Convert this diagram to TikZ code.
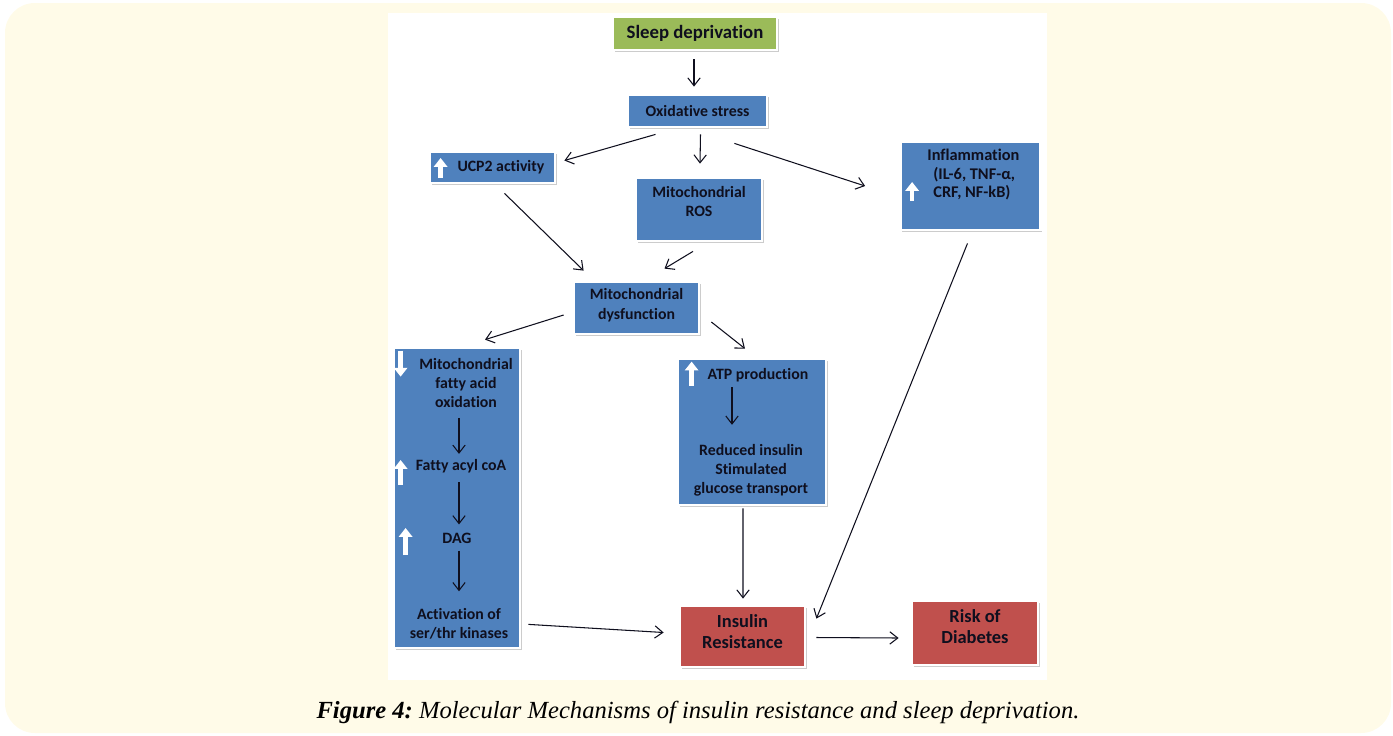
\documentclass[tikz,border=0pt]{standalone}
\usepackage{fontspec}
\setmainfont[Ligatures=NoCommon]{Carlito}
\newfontfamily\capfont{Liberation Serif}
\usetikzlibrary{arrows.meta,calc,shadows}

\definecolor{boxblue}{RGB}{79,129,189}
\definecolor{boxgreen}{RGB}{155,187,89}
\definecolor{boxred}{RGB}{192,80,77}
\definecolor{cream}{RGB}{255,251,232}
\definecolor{ink}{RGB}{15,15,30}

\begin{document}
\begin{tikzpicture}[x=0.02cm,y=-0.02cm,
    box/.style={draw=white, line width=1.6pt, fill=boxblue, text=ink, align=center, inner sep=0pt,
      font=\bfseries\fontsize{9}{11.2}\selectfont,
      drop shadow={shadow xshift=1pt, shadow yshift=-1.2pt, opacity=0.4}},
    txt/.style={text=ink, align=center, inner sep=0pt, font=\bfseries\fontsize{9}{10.8}\selectfont},
    arr/.style={-{Straight Barb[length=4.5pt,width=7pt]}, line width=0.6pt, draw=ink},
    whitearr/.style={draw=white, line width=2.6pt, -{Triangle[length=5pt,width=7.5pt]}}]

	% Page and panel
	\useasboundingbox (0,0) rectangle (1393,735);
	\fill[cream, rounded corners=17pt] (5,3) rectangle (1391,733);
	\fill[white] (388,13) rectangle (1047,680);

	% Top of the chain
	\node[box, fill=boxgreen, minimum width=3.28cm, minimum height=0.66cm,
	  font=\bfseries\fontsize{10.7}{13}\selectfont] (sleep) at (695,33.5) {Sleep deprivation};
	\node[box, minimum width=2.78cm, minimum height=0.64cm] (oxstress) at (697.5,111) {Oxidative stress};
	\node[box, minimum width=2.5cm, minimum height=0.62cm] (ucp) at (492.5,167.5) {\hspace*{9.6pt}UCP2 activity};
	\node[box, minimum width=2.52cm, minimum height=1.26cm, text depth=9pt] (ros) at (699,209.5) {Mitochondrial\\ROS};
	\node[box, minimum width=2.8cm, minimum height=1.76cm] (inflam) at (970.5,186) {};
	\node[txt, anchor=west, align=left, font=\bfseries\fontsize{9.3}{10.8}\selectfont] (inflamtxt) at (933,174.5)
	  {\hspace*{-3.4pt}Inflammation\\(IL-6, TNF-α,\\CRF, NF-kB)};
	\node[box, minimum width=2.5cm, minimum height=1.04cm, text depth=4.5pt] (mitodys) at (636.5,308) {Mitochondrial\\dysfunction};

	% Left column
	\node[box, minimum width=2.52cm, minimum height=6cm] (fatox) at (457,498) {};
	\node[txt] (fao) at (466,383) {Mitochondrial\\fatty acid\\oxidation};
	\node[txt] (acyl) at (461,466) {Fatty acyl coA};
	\node[txt] (dag) at (457,538) {DAG};
	\node[txt] (kin) at (459,624) {Activation of\\ser/thr kinases};

	% ATP column
	\node[box, minimum width=2.96cm, minimum height=2.92cm] (atpbox) at (752,432) {};
	\node[txt] (atp) at (758,375) {ATP production};
	\node[txt] (glut) at (751,470) {Reduced insulin\\Stimulated\\glucose transport};

	% Outcome
	\node[box, fill=boxred, minimum width=2.5cm, minimum height=1.22cm, text depth=5.5pt,
	  font=\bfseries\fontsize{10.5}{12}\selectfont] (insres) at (742.5,636.5) {Insulin\\Resistance};
	\node[box, fill=boxred, minimum width=2.52cm, minimum height=1.28cm, text depth=7pt,
	  font=\bfseries\fontsize{10.5}{12}\selectfont] (diabetes) at (975,633) {Risk of\\Diabetes};

	% Up/down marks
	\draw[whitearr] ($(ucp.west)+(12,10.5)$) -- ($(ucp.west)+(12,-9.5)$);
	\draw[whitearr] ($(inflam.west)+(13,15)$) -- ($(inflam.west)+(13,-4)$);
	\draw[whitearr] ($(fatox.north west)+(8,4)$) -- ($(fatox.north west)+(8,30)$);
	\draw[whitearr] ($(fatox.west)+(8,-13)$) -- ($(fatox.west)+(8,-38)$);
	\draw[whitearr] ($(fatox.west)+(13,57)$) -- ($(fatox.west)+(13,30)$);
	\draw[whitearr] ($(atpbox.north west)+(15,28)$) -- ($(atpbox.north west)+(15,4)$);

	% Connectors
	\draw[arr] ($(sleep.south)+(-1,8)$) -- ($(oxstress.north)+(-3.5,-7)$);
	\draw[arr] ($(oxstress.south)+(-42,6)$) -- ($(ucp.east)+(8,-7)$);
	\draw[arr] ($(oxstress.south)+(3,6)$) -- ($(ros.north)+(1,-13)$);
	\draw[arr] ($(oxstress.south east)+(-34,15)$) -- ($(inflam.west)+(-34,0)$);
	\draw[arr] ($(ucp.south)+(12,9)$) -- ($(mitodys.north west)+(11,-10)$);
	\draw[arr] ($(ros.south)+(-6,9)$) -- ($(mitodys.north)+(28,-12)$);
	\draw[arr] ($(mitodys.west)+(-9,7)$) -- ($(fatox.north)+(28,-7)$);
	\draw[arr] ($(mitodys.east)+(11,14)$) -- ($(atpbox.north)+(-7,-9)$);
	\draw[arr] ($(fao.south)+(-7,10)$) -- ($(acyl.north)+(-2,-5)$);
	\draw[arr] ($(acyl.south)+(-2,9)$) -- ($(dag.north)+(2,-8)$);
	\draw[arr] ($(dag.south)+(2,7)$) -- ($(kin.north)+(0,-17)$);
	\draw[arr] ($(atp.south)+(-26,5)$) -- ($(glut.north)+(-19,-19)$);
	\draw[arr] ($(inflam.south)+(-3,12)$) -- ($(insres.north east)+(10,14)$);
	\draw[arr] ($(atpbox.south)+(-9,2)$) -- ($(insres.north)+(0.5,-6)$);
	\draw[arr] ($(fatox.south east)+(7,-25)$) -- ($(insres.west)+(-15,-4)$);
	\draw[arr] ($(insres.east)+(10,1)$) -- ($(diabetes.west)+(-12,5)$);

	% Caption
	\node[inner sep=0pt, text=black, font=\capfont\itshape\fontsize{14}{16}\selectfont] (caption) at (698,712)
	  {\textbf{Figure 4:}~Molecular Mechanisms of insulin resistance and sleep deprivation.};
\end{tikzpicture}
\end{document}
